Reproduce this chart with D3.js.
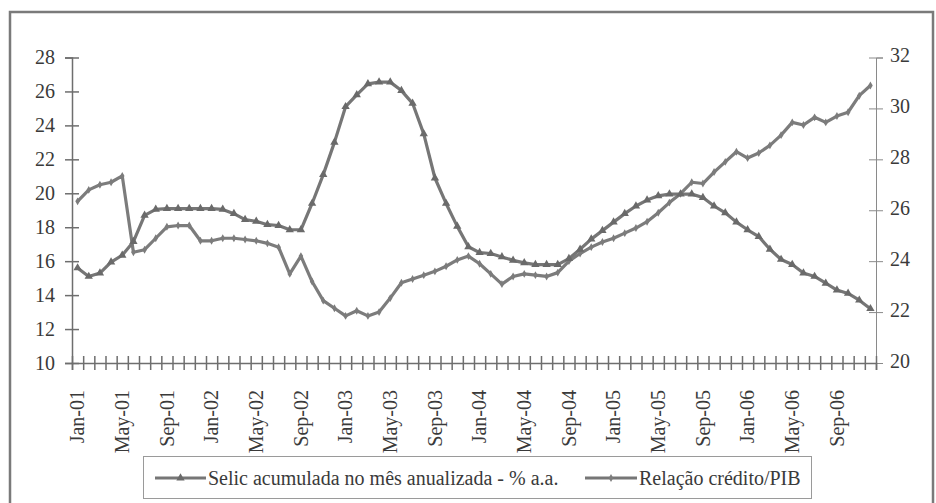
<!DOCTYPE html>
<html><head><meta charset="utf-8"><script src="https://cdn.jsdelivr.net/npm/d3@7"></script></head>
<body style="margin:0">
<div class="chart"></div>
<script>
/* Categories: monthly, Jan-01 to Dec-06 */
const years = ["01", "02", "03", "04", "05", "06"];
const monthNames = ["Jan", "Feb", "Mar", "Apr", "May", "Jun", "Jul", "Aug", "Sep", "Oct", "Nov", "Dec"];
const months = years.flatMap(y => monthNames.map(m => m + "-" + y));

/* Tick labels shown on the category axis */
const tickLabels = ["Jan-01", "May-01", "Sep-01", "Jan-02", "May-02", "Sep-02",
                    "Jan-03", "May-03", "Sep-03", "Jan-04", "May-04", "Sep-04",
                    "Jan-05", "May-05", "Sep-05", "Jan-06", "May-06", "Sep-06"];

/* Selic acumulada no mês anualizada - % a.a. (left axis) */
const selic = [
  15.6, 15.1, 15.3, 15.95, 16.35, 17.15, 18.7, 19.05, 19.1, 19.1, 19.1, 19.1,
  19.1, 19.05, 18.8, 18.45, 18.35, 18.15, 18.1, 17.85, 17.85, 19.4, 21.1, 23.0,
  25.1, 25.8, 26.45, 26.55, 26.55, 26.05, 25.3, 23.5, 20.9, 19.4, 18.05, 16.85,
  16.5, 16.45, 16.25, 16.05, 15.9, 15.8, 15.8, 15.8, 16.15, 16.7, 17.3, 17.8,
  18.3, 18.8, 19.25, 19.6, 19.85, 19.95, 19.95, 19.95, 19.75, 19.25, 18.85, 18.3,
  17.85, 17.45, 16.7, 16.1, 15.8, 15.3, 15.1, 14.7, 14.3, 14.1, 13.7, 13.2
];

/* Relação crédito/PIB (right axis) */
const credito = [
  26.35, 26.8, 27.0, 27.1, 27.35, 24.35, 24.45, 24.9, 25.35, 25.4, 25.4, 24.8,
  24.8, 24.9, 24.9, 24.85, 24.8, 24.7, 24.55, 23.5, 24.2, 23.2, 22.45, 22.15,
  21.85, 22.05, 21.85, 22.0, 22.55, 23.15, 23.3, 23.45, 23.6, 23.8, 24.05, 24.2,
  23.9, 23.5, 23.1, 23.4, 23.5, 23.45, 23.4, 23.55, 24.0, 24.3, 24.55, 24.75,
  24.9, 25.1, 25.3, 25.55, 25.9, 26.3, 26.65, 27.1, 27.05, 27.5, 27.9, 28.3,
  28.05, 28.25, 28.55, 28.95, 29.45, 29.35, 29.65, 29.45, 29.7, 29.85, 30.5, 30.9
];

const seriesNames = ["Selic acumulada no mês anualizada - % a.a.", "Relação crédito/PIB"];
const leftTicks = [10, 12, 14, 16, 18, 20, 22, 24, 26, 28];
const rightTicks = [20, 22, 24, 26, 28, 30, 32];

/* Dimensions */
const w = 936, h = 503;
const plotLeft = 72, plotRight = 876, plotTop = 57.5, plotBottom = 363;
const lineColor = "#767676";
const axisColor = "#6e6e6e";
const textColor = "#3a3a3a";

const svg = d3.select(".chart").append("svg")
  .attr("width", w)
  .attr("height", h)
  .style("display", "block");

/* Outer frame */
svg.append("rect")
  .attr("x", 10).attr("y", 12)
  .attr("width", 923).attr("height", 520)
  .attr("fill", "none")
  .attr("stroke", "#7a7a7a")
  .attr("stroke-width", 2.5);

/* Scales */
const xScale = d3.scaleBand().domain(months).range([plotLeft, plotRight]);
const xCenter = d => xScale(d) + xScale.bandwidth() / 2;
const xEdge = d3.scaleLinear().domain([0, months.length]).range([plotLeft, plotRight]);
const yLeft = d3.scaleLinear().domain([10, 28]).range([plotBottom, plotTop]);
const yRight = d3.scaleLinear().domain([20, 32]).range([plotBottom, plotTop]);

/* Left axis */
const gLeft = svg.append("g")
  .attr("transform", "translate(" + plotLeft + ",0)")
  .call(d3.axisLeft(yLeft).tickValues(leftTicks).tickSize(7).tickPadding(10));
gLeft.select(".domain").attr("stroke", axisColor).attr("stroke-width", 1.5);
gLeft.selectAll(".tick line").attr("x2", 7).attr("x1", -7).attr("stroke", axisColor).attr("stroke-width", 1.5);
gLeft.selectAll(".tick text").attr("x", -17);

/* Right axis */
const gRight = svg.append("g")
  .attr("transform", "translate(" + plotRight + ",0)")
  .call(d3.axisRight(yRight).tickValues(rightTicks).tickSize(7).tickPadding(10));
gRight.select(".domain").attr("stroke", "#8a8a8a").attr("stroke-width", 1);
gRight.selectAll(".tick line").attr("x1", -7).attr("x2", 7).attr("stroke", "#8a8a8a");
gRight.selectAll(".tick text").attr("x", 14).attr("dy", "0.2em");

/* Category axis: tick marks at category boundaries */
const gTicks = svg.append("g")
  .attr("transform", "translate(0," + plotBottom + ")")
  .call(d3.axisBottom(xEdge).tickValues(d3.range(months.length + 1)).tickSize(7).tickFormat(""));
gTicks.select(".domain").attr("stroke", axisColor).attr("stroke-width", 1.5);
gTicks.selectAll(".tick line").attr("y1", -7).attr("y2", 7).attr("stroke", axisColor).attr("stroke-width", 1.5);

/* Category labels, rotated */
const gLabels = svg.append("g")
  .attr("transform", "translate(0," + plotBottom + ")")
  .call(d3.axisBottom(xScale).tickValues(tickLabels).tickSize(0));
gLabels.select(".domain").remove();
gLabels.selectAll(".tick text")
  .attr("text-anchor", "end")
  .attr("transform", "rotate(-90)")
  .attr("x", -27)
  .attr("y", 0)
  .attr("dy", "0.33em");

/* Lines */
const lineSelic = d3.line().x((d, i) => xCenter(months[i])).y(d => yLeft(d));
const lineCredito = d3.line().x((d, i) => xCenter(months[i])).y(d => yRight(d));

svg.append("path")
  .datum(credito)
  .attr("d", lineCredito)
  .attr("fill", "none")
  .attr("stroke", "#7c7c7c")
  .attr("stroke-width", 3.2)
  .attr("stroke-linejoin", "round");

svg.append("path")
  .datum(selic)
  .attr("d", lineSelic)
  .attr("fill", "none")
  .attr("stroke", lineColor)
  .attr("stroke-width", 3.2)
  .attr("stroke-linejoin", "round");

/* Markers */
const tri = d3.symbol(d3.symbolTriangle, 30);
const dia = d3.symbol(d3.symbolDiamond, 18);

svg.append("g").selectAll("path")
  .data(credito)
  .enter()
  .append("path")
  .attr("d", dia)
  .attr("transform", (d, i) => "translate(" + xCenter(months[i]) + "," + yRight(d) + ")")
  .attr("fill", "#7c7c7c");

svg.append("g").selectAll("path")
  .data(selic)
  .enter()
  .append("path")
  .attr("d", tri)
  .attr("transform", (d, i) => "translate(" + xCenter(months[i]) + "," + yLeft(d) + ")")
  .attr("fill", "#6a6a6a");

/* Legend */
const legend = svg.append("g");
legend.append("rect")
  .attr("x", 143.5).attr("y", 456.5)
  .attr("width", 668).attr("height", 42)
  .attr("fill", "#fff")
  .attr("stroke", "#9a9a9a")
  .attr("stroke-width", 1);

const legendItems = [
  { x1: 155, x2: 206, sym: tri, color: "#6a6a6a" },
  { x1: 585, x2: 637, sym: dia, color: "#7c7c7c" }
];

legendItems.forEach((it, i) => {
  legend.append("line")
    .attr("x1", it.x1).attr("x2", it.x2)
    .attr("y1", 478).attr("y2", 478)
    .attr("stroke", lineColor)
    .attr("stroke-width", 3.2);
  legend.append("path")
    .attr("d", it.sym)
    .attr("transform", "translate(" + (it.x1 + it.x2) / 2 + ",478)")
    .attr("fill", it.color);
  legend.append("text")
    .attr("x", it.x2 + 2)
    .attr("y", 478)
    .attr("dy", "0.33em")
    .text(seriesNames[i]);
});

/* All text: Times-style serif, 20px, dark grey */
svg.selectAll("g").attr("font-family", "Times New Roman").attr("font-size", null);
svg.selectAll("text")
  .attr("font-family", "Times New Roman")
  .attr("font-size", null)
  .style("font-family", () => "Times New Roman")
  .style("font-size", "20px")
  .attr("fill", textColor);
</script>
</body>
</html>
